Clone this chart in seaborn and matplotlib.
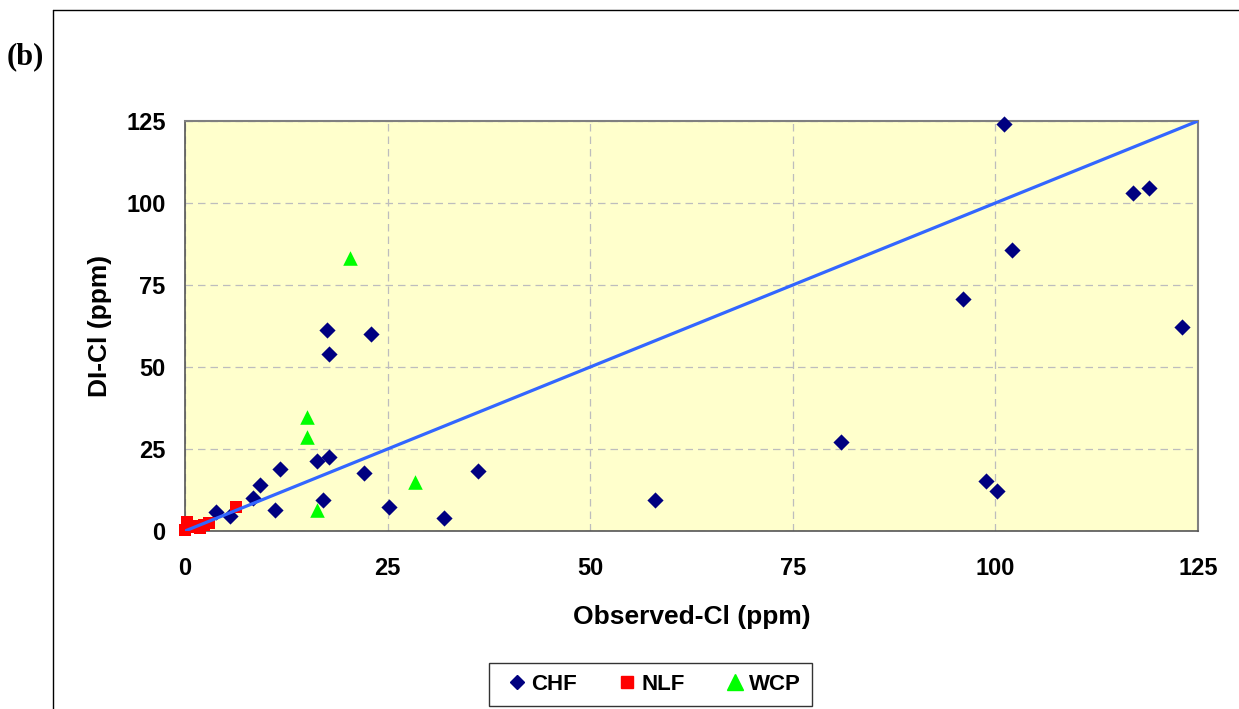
import numpy as np
import pandas as pd
import matplotlib
matplotlib.use("Agg")
import matplotlib.pyplot as plt
from matplotlib.lines import Line2D
import seaborn as sns

# Observed vs DI chloride (ppm)
chf_obs = [101.0, 117.0, 119.0, 102.0, 96.0, 123.0, 81.0, 98.9, 100.2, 58.0, 36.2, 32.0, 25.2,
           22.1, 23.0, 17.5, 17.8, 17.8, 16.3, 17.0, 11.7, 9.3, 8.4, 11.1, 3.8, 5.6]
chf_di = [124.0, 103.0, 104.7, 85.7, 70.7, 62.3, 27.2, 15.3, 12.3, 9.5, 18.3, 4.0, 7.3,
          17.7, 60.0, 61.3, 54.0, 22.6, 21.3, 9.5, 18.9, 14.0, 10.1, 6.4, 5.7, 4.6]

nlf_obs = [0.0, 0.2, 0.3, 0.6, 1.2, 1.8, 2.4, 2.9, 6.3]
nlf_di = [0.3, 1.8, 2.6, 1.2, 1.5, 1.0, 1.8, 2.3, 7.4]

wcp_obs = [20.4, 15.1, 15.1, 16.3, 28.4]
wcp_di = [83.1, 34.9, 28.8, 6.4, 15.0]

groups = ["CHF", "NLF", "WCP"]
ticks = [0, 25, 50, 75, 100, 125]
lims = [0, 125]

df = pd.concat([
    pd.DataFrame({"obs": chf_obs, "di": chf_di, "group": "CHF"}),
    pd.DataFrame({"obs": nlf_obs, "di": nlf_di, "group": "NLF"}),
    pd.DataFrame({"obs": wcp_obs, "di": wcp_di, "group": "WCP"}),
])

styles = {
    "CHF": dict(marker="D", color="#000080", s=68, ms=7.5),
    "NLF": dict(marker="s", color="#FF0000", s=70, ms=8),
    "WCP": dict(marker="^", color="#00FF00", s=110, ms=11),
}

sns.set_style("white")
plt.rcParams["font.family"] = ["Liberation Sans", "DejaVu Sans"]
plt.rcParams["font.weight"] = "bold"
plt.rcParams["text.color"] = "black"
plt.rcParams["axes.labelcolor"] = "black"
plt.rcParams["xtick.labelcolor"] = "black"
plt.rcParams["ytick.labelcolor"] = "black"

fig = plt.figure(figsize=(12.39, 7.09), dpi=100)
ax = fig.add_axes([185 / 1239, 1 - 531 / 709, 1013 / 1239, 410 / 709])
ax.set_facecolor("#FFFFCC")

for g in groups:
    st = styles[g]
    sns.scatterplot(data=df[df["group"] == g], x="obs", y="di", ax=ax,
                    marker=st["marker"], color=st["color"], s=st["s"],
                    linewidth=0, label=g, zorder=3, clip_on=False)

# 1:1 line
ax.plot(lims, lims, color="#3366FF", lw=2.3, zorder=4, solid_capstyle="butt")

ax.set_xlim(lims)
ax.set_ylim(lims)
ax.set_xticks(ticks)
ax.set_yticks(ticks)
ax.grid(True, color="#BDBDBD", linestyle=(0, (6, 4)), linewidth=0.9)
ax.set_axisbelow(True)

for side in ["left", "bottom"]:
    ax.spines[side].set_color("#555555")
    ax.spines[side].set_linewidth(1.2)
for side in ["top", "right"]:
    ax.spines[side].set_color("#808080")
    ax.spines[side].set_linewidth(1.5)

ax.tick_params(axis="both", direction="out", length=5, width=1, color="#555555",
               labelsize=17, labelcolor="black")
ax.tick_params(axis="x", pad=14)
ax.tick_params(axis="y", pad=9)
for lab in ax.get_xticklabels() + ax.get_yticklabels():
    lab.set_fontweight("bold")

ax.set_xlabel("Observed-Cl (ppm)", fontsize=19, fontweight="bold", labelpad=18, color="black")
ax.set_ylabel("DI-Cl (ppm)", fontsize=19, fontweight="bold", labelpad=10, color="black")
ax.get_legend().remove()

# legend below the plot
handles = [Line2D([], [], linestyle="none", marker=styles[g]["marker"],
                  color=styles[g]["color"], markersize=styles[g]["ms"])
           for g in groups]
leg = fig.legend(handles, groups, loc="upper center", ncol=3,
                 bbox_to_anchor=(650 / 1239, 1 - 663 / 709),
                 frameon=True, fancybox=False, edgecolor="black",
                 prop={"size": 16, "weight": "bold"},
                 handletextpad=-0.17, columnspacing=1.45, handlelength=1.6,
                 borderpad=0.5, borderaxespad=0)
leg.get_frame().set_linewidth(1.0)
for t in leg.get_texts():
    t.set_color("black")

# outer frame (cropped at right and bottom)
x0, y0 = 53 / 1239, 1 - 10 / 709
fig.add_artist(Line2D([x0, x0], [0, y0], color="black", lw=1.0, transform=fig.transFigure))
fig.add_artist(Line2D([x0, 1], [y0, y0], color="black", lw=1.0, transform=fig.transFigure))

fig.text(7 / 1239, 1 - 57 / 709, "(b)", fontsize=22, fontweight="bold", color="black",
         family=["Liberation Serif", "DejaVu Serif"], va="center", ha="left")

fig.savefig("out.png", dpi=100, facecolor="white")
